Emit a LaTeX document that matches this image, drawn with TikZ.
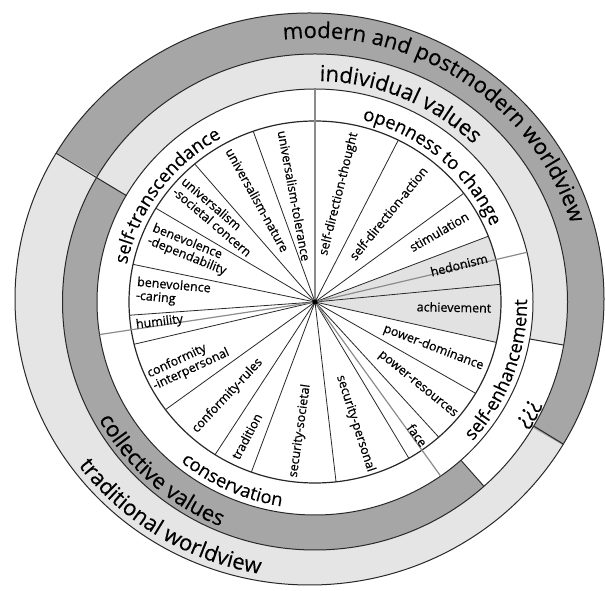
\documentclass[tikz,border=0pt]{standalone}
\usepackage{fontspec}
\setmainfont{Open Sans}
\newfontfamily\wheelfont[FakeBold=0.6]{Open Sans}
\newfontfamily\arcfont[FakeBold=0.25]{Open Sans}
\usetikzlibrary{decorations.text,calc}
\definecolor{ringdark}{RGB}{166,166,166}
\definecolor{ringlight}{RGB}{229,229,229}
\definecolor{wedgegray}{RGB}{226,226,226}
\definecolor{divgray}{RGB}{140,140,140}
\definecolor{inkc}{RGB}{40,40,40}
\newcommand\fouter{\arcfont\fontsize{22}{26}\selectfont}
\newcommand\fring{\arcfont\fontsize{22}{26}\selectfont}
\newcommand\fthree{\arcfont\fontsize{18.5}{22}\selectfont}
\tikzset{
  ln/.style={draw=inkc, line width=1pt},
  wl/.style={draw=inkc, line width=0.8pt},
  gl/.style={draw=divgray, line width=1.2pt},
  wlab/.style={font=\wheelfont\fontsize{12.5}{13.5}\selectfont, inner sep=0pt, align=left, text=black},
  arctext/.style={decorate, decoration={text along path, text align=center, text={#1}}}
}
\begin{document}
\begin{tikzpicture}[x=1pt,y=1pt]
\useasboundingbox (0,0) rectangle (605,591);
\clip (0,0) rectangle (605,591);
\begin{scope}[shift={(315,289)}]
  % outer ring: traditional (light) and modern (dark)
  \coordinate (oc) at (-5.5,3);
  \fill[ringlight] (oc) ellipse[x radius=294.5, y radius=286];
  \begin{scope}
    \clip (150:700) -- (-30:700) -- (60:700) -- cycle;
    \fill[ringdark] (oc) ellipse[x radius=294.5, y radius=286];
  \end{scope}
  % ring 2
  \fill[ringlight] (0,0) -- (-10:252.5 and 248) arc[start angle=-10, end angle=150, x radius=252.5, y radius=248] -- cycle;
  \fill[ringdark] (0,0) -- (150:252.5 and 248) arc[start angle=150, end angle=312, x radius=252.5, y radius=248] -- cycle;
  \fill[white] (0,0) -- (312:252.5 and 248) arc[start angle=312, end angle=350, x radius=252.5, y radius=248] -- cycle;
  % ring 3 and wheel
  \fill[white] (0,0) ellipse[x radius=218, y radius=213];
  \fill[wedgegray] (0,0) -- (-12.9:186 and 181) arc[start angle=-12.9, end angle=21.3, x radius=186, y radius=181] -- cycle;
  % outlines
  \draw[ln] (oc) ellipse[x radius=294.5, y radius=286];
  \draw[ln] (0,0) ellipse[x radius=252.5, y radius=248];
  \draw[ln] (0,0) ellipse[x radius=218, y radius=213];
  \draw[ln, line width=1.2pt] (0,0) ellipse[x radius=186, y radius=181];
  % dividers of the outer rings
  \begin{scope}
    \clip (oc) ellipse[x radius=294.5, y radius=286];
    \draw[ln] (150:218 and 213) -- (150:330 and 330);
    \draw[ln] (-30:252.5 and 248) -- (-30:330 and 330);
  \end{scope}
  \draw[ln] (-10:218 and 213) -- (-10:252.5 and 248);
  \draw[ln] (312:218 and 213) -- (312:252.5 and 248);
  % wedge lines
  \foreach \a in {109.4,130.3,148.8,168,184.2,193.5,216.5,237.5,250,276.5,300.3,311.7,329.7,347.1,5.6,21.3,36.9,63.4}
    \draw[wl] (0,0) -- (\a:186 and 181);
  % gray dividers
  \foreach \a in {90,13.5,188.8,-54.8}
    \draw[gl] (0,0) -- (\a:218 and 213);
  \fill[black] (0,0) circle (2.6);
  % wheel labels
  \node[wlab, rotate=-79.5] (ut) at (-20.8,106.2) {universalism-tolerance};
  \node[wlab, rotate=-61] (un) at (-57.5,102) {universalism-nature};
  \node[wlab, rotate=-40.5] (us) at (-98.3,85.3) {universalism\\-societal concern};
  \node[wlab, rotate=-22] (bd) at (-125.7,52) {benevolence\\-dependability};
  \node[wlab, rotate=-5] (bc) at (-141.7,9.3) {benevolence\\-caring};
  \node[wlab, rotate=7] (hu) at (-155.5,-20.5) {humility};
  \node[wlab, rotate=25] (ci) at (-126.7,-61.3) {conformity\\-interpersonal};
  \node[wlab, rotate=47] (cr) at (-87.5,-93.8) {conformity-rules};
  \node[wlab, rotate=62] (tr) at (-68.3,-134.3) {tradition};
  \node[wlab, rotate=82] (ss) at (-15,-128.8) {security-societal};
  \node[wlab, rotate=-72] (sp) at (40.5,-121.6) {security-personal};
  \node[wlab, rotate=-54] (fa) at (102.3,-133.2) {face};
  \node[wlab, rotate=-39] (pr) at (102.3,-83) {power-resources};
  \node[wlab, rotate=-21] (pd) at (118.5,-45.6) {power-dominance};
  \node[wlab, rotate=-1] (ac) at (139,-5.3) {achievement};
  \node[wlab, rotate=14] (he) at (144,37) {hedonism};
  \node[wlab, rotate=30] (st) at (124,70.3) {stimulation};
  \node[wlab, rotate=51] (sa) at (73.3,88.7) {self-direction-action};
  \node[wlab, rotate=76] (sth) at (24,108) {self-direction-thought};
  % arc texts
  \path[arctext={|\fouter|modern and postmodern worldview}] (101:268 and 264) arc[start angle=101, end angle=13, x radius=268, y radius=264];
  \path[arctext={|\fouter|traditional worldview}] ($(oc)+(188:288 and 279)$) arc[start angle=188, end angle=288, x radius=288, y radius=279];
  \path[arctext={|\fring|individual values}] (112:226 and 221) arc[start angle=112, end angle=22, x radius=226, y radius=221];
  \path[arctext={|\fring|collective values}] (180:247 and 243) arc[start angle=180, end angle=276, x radius=247, y radius=243];
  \path[arctext={|\fring|¿¿¿}] (-50:247 and 243) arc[start angle=-50, end angle=-6, x radius=247, y radius=243];
  \path[arctext={|\fthree|openness to change}] (95:192 and 188) arc[start angle=95, end angle=4, x radius=192, y radius=188];
  \path[arctext={|\fthree|self-transcendance}] (190:192 and 188) arc[start angle=190, end angle=98, x radius=192, y radius=188];
  \path[arctext={|\fthree|self-enhancement}] (-65:212 and 208) arc[start angle=-65, end angle=24, x radius=212, y radius=208];
  \path[arctext={|\fthree|conservation}] (200:211 and 207) arc[start angle=200, end angle=291, x radius=211, y radius=207];
\end{scope}
\end{tikzpicture}
\end{document}
